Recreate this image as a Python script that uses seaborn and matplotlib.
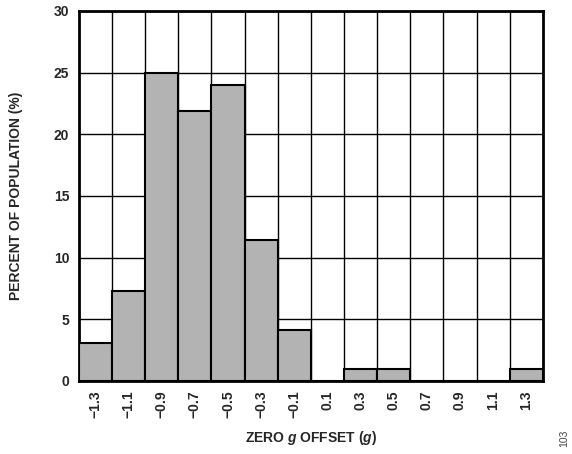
import numpy as np
import pandas as pd
import seaborn as sns
import matplotlib.pyplot as plt
from matplotlib.ticker import FixedLocator

# Zero g offset bins and percent of population
offset_bins = ['\u22121.3', '\u22121.1', '\u22120.9', '\u22120.7', '\u22120.5', '\u22120.3', '\u22120.1',
               '0.1', '0.3', '0.5', '0.7', '0.9', '1.1', '1.3']
percent = [3.1, 7.3, 25.0, 21.9, 24.0, 11.4, 4.1, 0, 1.0, 1.0, 0, 0, 0, 1.0]

sns.set_style('white')
plt.rcParams['font.family'] = ['Liberation Sans', 'DejaVu Sans']
plt.rcParams['font.weight'] = 'bold'
plt.rcParams['mathtext.fontset'] = 'custom'
plt.rcParams['mathtext.it'] = 'Liberation Sans:italic:bold'
plt.rcParams['mathtext.rm'] = 'Liberation Sans:bold'

df = pd.DataFrame({'bin': offset_bins, 'pct': percent})

fig = plt.figure(figsize=(5.72, 4.54), dpi=100)
ax = fig.add_axes([0.138, 0.161, 0.811, 0.815])

sns.barplot(data=df, x='bin', y='pct', color='#b3b3b3', width=1.0, saturation=1,
            edgecolor='black', linewidth=1.5, zorder=3, ax=ax)

ax.set_ylim(0, 30)
ax.set_xlim(-0.5, len(offset_bins) - 0.5)
ax.set_yticks(np.arange(0, 31, 5))
ax.xaxis.set_minor_locator(FixedLocator(np.arange(0.5, len(offset_bins) - 0.5, 1)))
ax.grid(False)
ax.grid(True, which='minor', axis='x', color='black', linewidth=1, zorder=0)
ax.grid(True, which='major', axis='y', color='black', linewidth=1, zorder=0)
ax.set_axisbelow(True)
ax.tick_params(which='both', length=0)
ax.tick_params(axis='x', labelrotation=90, labelsize=10, pad=7)
ax.tick_params(axis='y', labelsize=10, pad=7)
for lbl in ax.get_xticklabels() + ax.get_yticklabels():
    lbl.set_fontweight('bold')

for s in ax.spines.values():
    s.set_color('black')
    s.set_linewidth(2)

ax.set_xlabel(r'ZERO $\it{g}$ OFFSET ($\it{g}$)', fontsize=10, fontweight='bold', labelpad=8)
ax.set_ylabel('PERCENT OF POPULATION (%)', fontsize=10, fontweight='bold', labelpad=22)

fig.text(0.986, 0.035, '103', rotation=90, fontsize=7.5, color='#444444',
         fontweight='normal', ha='center', va='center')

plt.savefig('out.png', dpi=100)
